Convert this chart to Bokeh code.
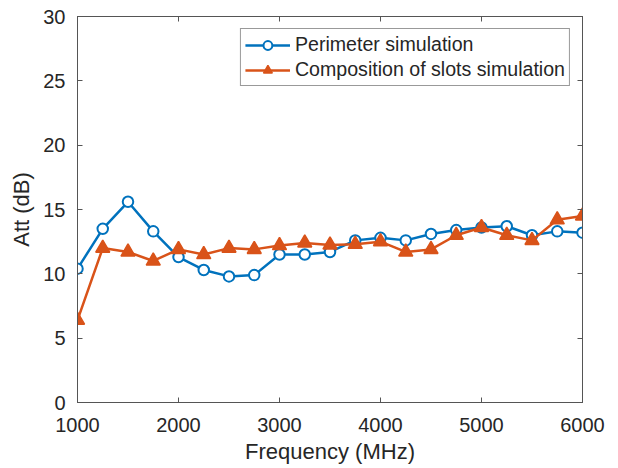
from bokeh.plotting import figure
from bokeh.models import (LinearAxis, Legend, LegendItem, Range1d,
                          SingleIntervalTicker)
from bokeh.embed import file_html
from bokeh.resources import INLINE

frequency = [1000, 1250, 1500, 1750, 2000, 2250, 2500, 2750, 3000, 3250, 3500,
             3750, 4000, 4250, 4500, 4750, 5000, 5250, 5500, 5750, 6000]
perimeter = [10.4, 13.5, 15.6, 13.3, 11.3, 10.3, 9.8, 9.9, 11.5, 11.5, 11.7,
             12.6, 12.8, 12.6, 13.1, 13.4, 13.6, 13.7, 13.0, 13.3, 13.2]
slots = [6.4, 12.0, 11.7, 11.0, 11.9, 11.5, 12.0, 11.9, 12.2, 12.4, 12.25,
         12.3, 12.5, 11.7, 11.9, 13.0, 13.6, 13.0, 12.6, 14.2, 14.5]
series_names = ["Perimeter simulation", "Composition of slots simulation"]

FONT = "Liberation Sans"
TXT = "#262626"
AX = "#555555"
BLUE = "#0072BD"
ORANGE = "#D95319"

p = figure(width=618, height=468, output_backend="svg", toolbar_location=None,
           x_range=Range1d(1000, 6000), y_range=Range1d(0, 30),
           min_border_left=77, min_border_right=36, min_border_top=16,
           min_border_bottom=66, background_fill_color="white",
           border_fill_color="white")
p.outline_line_color = AX
p.outline_line_width = 1
p.xgrid.visible = False
p.ygrid.visible = False

p.xaxis.ticker = SingleIntervalTicker(interval=1000)
p.yaxis.ticker = SingleIntervalTicker(interval=5)

for ax in (p.xaxis[0], p.yaxis[0]):
    ax.axis_line_color = AX
    ax.major_tick_line_color = AX
    ax.major_tick_in = 5
    ax.major_tick_out = 0
    ax.minor_tick_line_color = None
    ax.major_label_text_font = FONT
    ax.major_label_text_font_size = "20px"
    ax.major_label_text_color = TXT
    ax.axis_label_text_font = FONT
    ax.axis_label_text_font_size = "22px"
    ax.axis_label_text_font_style = "normal"
    ax.axis_label_text_color = TXT

p.xaxis.axis_label = "Frequency (MHz)"
p.yaxis.axis_label = "Att (dB)"
p.xaxis.major_label_standoff = 11
p.xaxis.axis_label_standoff = 4
p.yaxis.major_label_standoff = 8
p.yaxis.axis_label_standoff = 6

right = LinearAxis(ticker=SingleIntervalTicker(interval=5))
top = LinearAxis(ticker=SingleIntervalTicker(interval=1000))
for ax in (right, top):
    ax.axis_line_color = AX
    ax.major_tick_line_color = AX
    ax.major_tick_in = 5
    ax.major_tick_out = 0
    ax.minor_tick_line_color = None
    ax.major_label_text_color = None
    ax.major_label_standoff = 0
p.add_layout(right, "right")
p.add_layout(top, "above")

l1 = p.line(frequency, perimeter, line_color=BLUE, line_width=2.5)
m1 = p.scatter(frequency, perimeter, marker="circle", size=10.5, line_color=BLUE,
               line_width=2, fill_color="white")
l2 = p.line(frequency, slots, line_color=ORANGE, line_width=2.5)
m2 = p.scatter(frequency, slots, marker="triangle", size=14, line_color=ORANGE,
               line_width=1.5, fill_color=ORANGE)

legend = Legend(items=[LegendItem(label=series_names[0], renderers=[l1, m1]),
                       LegendItem(label=series_names[1], renderers=[l2, m2])],
                location="top_right")
legend.label_text_font = FONT
legend.label_text_font_size = "19.6px"
legend.label_text_color = TXT
legend.glyph_width = 45
legend.glyph_height = 22
legend.label_height = 22
legend.label_standoff = 5
legend.spacing = 2
legend.padding = 4
legend.margin = 12
legend.border_line_color = "#333333"
legend.border_line_width = 1
legend.background_fill_color = "white"
legend.background_fill_alpha = 1
p.add_layout(legend, "center")

open("out.html", "w").write(file_html(p, INLINE))
